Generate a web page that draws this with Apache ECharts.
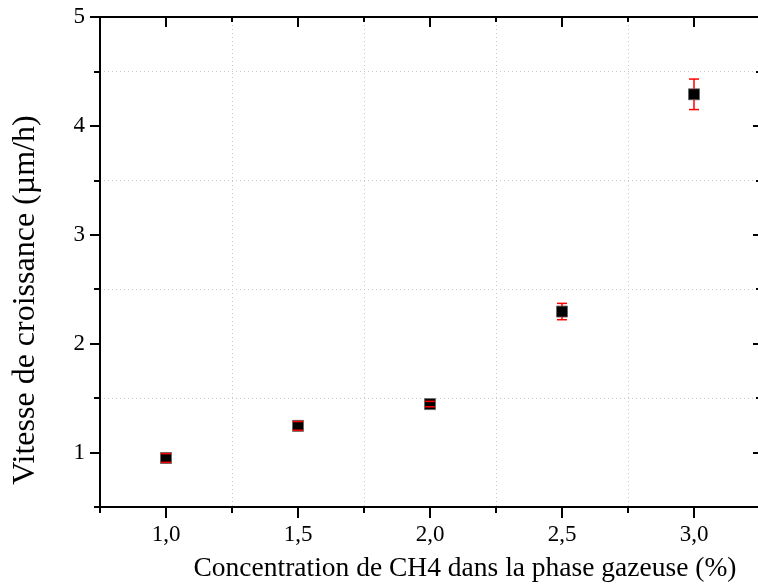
<!DOCTYPE html>
<html>
<head>
<meta charset="utf-8">
<script src="https://cdn.jsdelivr.net/npm/echarts@6/dist/echarts.min.js"></script>
<style>
html,body{margin:0;padding:0;background:#fff;}
#c{width:758px;height:586px;}
</style>
</head>
<body>
<div id="c"></div>
<script>
const concentrations = [1.0, 1.5, 2.0, 2.5, 3.0];
const growthRates = [0.95, 1.245, 1.445, 2.295, 4.29];
const growthErrors = [0.04, 0.04, 0.025, 0.075, 0.14];
const xMajorTicks = [1.0, 1.5, 2.0, 2.5, 3.0];
const xMinorTicks = [0.75, 1.25, 1.75, 2.25, 2.75, 3.25];
const yMajorTicks = [1, 2, 3, 4, 5];
const yMinorTicks = [0.5, 1.5, 2.5, 3.5, 4.5];
const xTitle = 'Concentration de CH4 dans la phase gazeuse (%)';
const yTitle = 'Vitesse de croissance (µm/h)';

const FONT = '"Liberation Serif", "Times New Roman", serif';
const chart = echarts.init(document.getElementById('c'), null, {renderer: 'canvas'});

const axisLineStyle = {color: '#000', width: 2};
function xAxisDef(pos, ticks, len, inside, withLabels, grid) {
  return {
    type: 'value', position: pos, min: 0.75, max: 3.25,
    axisLine: {show: true, onZero: false, lineStyle: axisLineStyle},
    axisTick: {show: true, customValues: ticks, length: len, inside: inside, lineStyle: {color: '#000', width: 2}},
    axisLabel: withLabels ? {show: true, customValues: ticks, margin: 16, fontFamily: FONT, fontSize: 23, color: '#000',
      formatter: v => v.toFixed(1).replace('.', ',')} : {show: false},
    splitLine: grid ? {show: true, lineStyle: {color: '#c8c8c8', type: [1, 3], width: 1}} : {show: false}
  };
}
function yAxisDef(pos, ticks, len, inside, withLabels, grid) {
  return {
    type: 'value', position: pos, min: 0.5, max: 5,
    axisLine: {show: true, onZero: false, lineStyle: axisLineStyle},
    axisTick: {show: true, customValues: ticks, length: len, inside: inside, lineStyle: {color: '#000', width: 2}},
    axisLabel: withLabels ? {show: true, customValues: ticks, margin: 15, fontFamily: FONT, fontSize: 23, color: '#000',
      formatter: v => String(v)} : {show: false},
    splitLine: grid ? {show: true, lineStyle: {color: '#c8c8c8', type: [1, 3], width: 1}} : {show: false}
  };
}

const option = {
  animation: false,
  backgroundColor: '#fff',
  grid: {left: 100, top: 17, width: 660, height: 490, containLabel: false, outerBoundsMode: 'none'},
  xAxis: [
    Object.assign(xAxisDef('bottom', xMajorTicks, 11, false, true, false), {
      name: xTitle, nameLocation: 'middle', nameGap: 48,
      nameTextStyle: {fontFamily: FONT, fontSize: 27.5, color: '#000', padding: [0, 0, 0, 70]}
    }),
    xAxisDef('bottom', xMinorTicks, 6, false, false, true),
    xAxisDef('top', xMajorTicks, 10, true, false, false),
    xAxisDef('top', xMinorTicks, 5, true, false, false)
  ],
  yAxis: [
    Object.assign(yAxisDef('left', yMajorTicks, 10, false, true, false), {
      name: yTitle, nameLocation: 'middle', nameGap: 58,
      nameTextStyle: {fontFamily: FONT, fontSize: 32, color: '#000', padding: [0, 76, 0, 0]}
    }),
    yAxisDef('left', yMinorTicks, 6, false, false, true),
    yAxisDef('right', yMajorTicks, 7, true, false, false),
    yAxisDef('right', yMinorTicks, 4, true, false, false)
  ],
  series: [
    {
      type: 'scatter', xAxisIndex: 0, yAxisIndex: 0, z: 3,
      symbol: 'rect', symbolSize: 11,
      itemStyle: {color: '#000', borderColor: '#666', borderWidth: 0.8, opacity: 1},
      data: concentrations.map((x, i) => [x, growthRates[i]])
    },
    {
      type: 'custom', xAxisIndex: 0, yAxisIndex: 0, z: 4,
      data: concentrations.map((x, i) => [x, growthRates[i], growthRates[i] - growthErrors[i], growthRates[i] + growthErrors[i]]),
      renderItem: function (params, api) {
        const c = api.coord([api.value(0), api.value(1)]);
        const lo = api.coord([api.value(0), api.value(2)]);
        const hi = api.coord([api.value(0), api.value(3)]);
        const hw = 5, half = 5.5;
        const st = {stroke: '#ff0000', lineWidth: 1.5};
        const children = [
          {type: 'line', shape: {x1: lo[0] - hw, y1: lo[1], x2: lo[0] + hw, y2: lo[1]}, style: st},
          {type: 'line', shape: {x1: hi[0] - hw, y1: hi[1], x2: hi[0] + hw, y2: hi[1]}, style: st}
        ];
        if (lo[1] > c[1] + half) children.push({type: 'line', shape: {x1: c[0], y1: c[1] + half, x2: lo[0], y2: lo[1]}, style: st});
        if (hi[1] < c[1] - half) children.push({type: 'line', shape: {x1: c[0], y1: c[1] - half, x2: hi[0], y2: hi[1]}, style: st});
        return {type: 'group', children: children};
      }
    }
  ]
};
chart.setOption(option);
</script>
</body>
</html>
